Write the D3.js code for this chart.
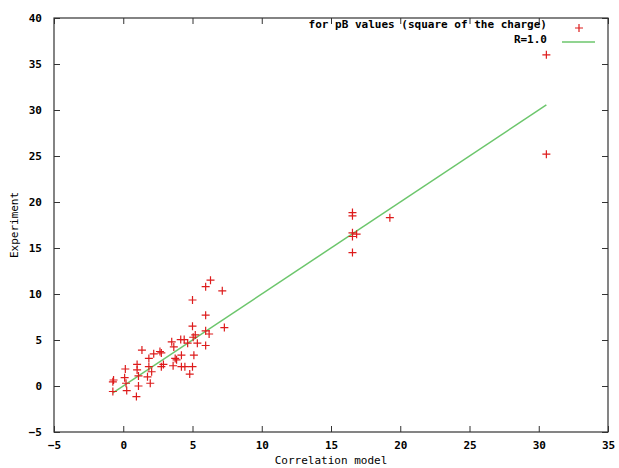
<!DOCTYPE html>
<html>
<head>
<meta charset="utf-8">
<script src="https://cdn.jsdelivr.net/npm/d3@7"></script>
<style>
    body { margin: 0; background: #fff; }
    text { font-family: "DejaVu Sans Mono", monospace; font-size: 11px; fill: #000; }
    .tick-label { font-weight: bold; }
</style>
</head>
<body>
<div id="chart"></div>
<script>
// values
const modelVals = [6.3, 5.95, 7.15, 5.0, 5.95, 7.3, 5.0, 5.95, 6.2, 3.5,
    4.15, 4.4, 4.65, 5.05, 5.2, 5.35, 5.95, 3.65, 1.35, 1.85,
    2.2, 2.65, 2.75, 4.2, 5.1, 3.75, 3.85, 2.9, 2.75, 3.6,
    4.2, 4.45, 5.0, 4.8, 1.0, 0.15, 1.0, 1.85, 2.05, 1.1,
    1.75, 0.1, 1.95, -0.7, -0.75, 0.2, 1.1, -0.75, 0.25, 0.95,
    16.55, 16.55, 19.25, 16.55, 16.85, 16.55, 16.55, 30.55, 30.55];
const expVals = [11.5, 10.8, 10.35, 9.35, 7.7, 6.35, 6.5, 6.0, 5.65, 4.8,
    5.05, 5.05, 4.65, 5.3, 5.55, 4.65, 4.4, 4.25, 3.9, 3.0,
    3.5, 3.75, 3.6, 3.35, 3.35, 3.0, 2.85, 2.35, 2.1, 2.2,
    2.1, 2.1, 2.1, 1.3, 2.35, 1.85, 1.75, 2.1, 1.55, 1.1,
    1.0, 0.9, 0.3, 0.65, 0.45, 0.3, 0.0, -0.6, -0.5, -1.15,
    18.85, 18.5, 18.3, 16.65, 16.5, 16.25, 14.5, 36.0, 25.2];
const xTicks = [-5, 0, 5, 10, 15, 20, 25, 30, 35];
const yTicks = [-5, 0, 5, 10, 15, 20, 25, 30, 35, 40];
const slope = 1.0;   // R=1.0 line

const W = 619, H = 468;
const margin = { top: 18, right: 11, bottom: 36, left: 54 };
const width = W - margin.left - margin.right;
const height = H - margin.top - margin.bottom;

const svg = d3.select("#chart").append("svg")
    .attr("width", W)
    .attr("height", H);

const g = svg.append("g")
    .attr("transform", `translate(${margin.left},${margin.top})`);

const x = d3.scaleLinear().domain([-5, 35]).range([0, width]);
const y = d3.scaleLinear().domain([-5, 40]).range([height, 0]);

// gnuplot style: ticks pointing inward on all four sides
const tickLen = 6;
g.append("g")
    .attr("transform", `translate(0,${height})`)
    .call(d3.axisBottom(x).tickValues(xTicks).tickSizeInner(-tickLen).tickSizeOuter(0).tickPadding(9))
    .call(a => a.select(".domain").remove())
    .selectAll("text").attr("class", "tick-label");
g.append("g")
    .call(d3.axisTop(x).tickValues(xTicks).tickSizeInner(-tickLen).tickSizeOuter(0).tickFormat(""))
    .call(a => a.select(".domain").remove());
g.append("g")
    .call(d3.axisLeft(y).tickValues(yTicks).tickSizeInner(-tickLen).tickSizeOuter(0).tickPadding(12))
    .call(a => a.select(".domain").remove())
    .selectAll("text").attr("class", "tick-label");
g.append("g")
    .attr("transform", `translate(${width},0)`)
    .call(d3.axisRight(y).tickValues(yTicks).tickSizeInner(-tickLen).tickSizeOuter(0).tickFormat(""))
    .call(a => a.select(".domain").remove());

g.selectAll(".tick line").attr("stroke", "#333");
g.selectAll(".tick text").style("font-size", "11px").style("font-family", "DejaVu Sans Mono, monospace");

g.append("rect")
    .attr("width", width)
    .attr("height", height)
    .attr("fill", "none")
    .attr("stroke", "#333")
    .attr("stroke-width", 1.2);

// fit line, across the range of the model values
const xMin = d3.min(modelVals), xMax = d3.max(modelVals);
g.append("line")
    .attr("x1", x(xMin)).attr("y1", y(slope * xMin))
    .attr("x2", x(xMax)).attr("y2", y(slope * xMax))
    .attr("stroke", "#6cc66c")
    .attr("stroke-width", 1.5);

// points as red plus signs
const pts = modelVals.map((d, i) => ({ m: d, e: expVals[i] }));
const s = 4;
g.selectAll(".pt")
    .data(pts)
    .enter()
    .append("path")
    .attr("class", "pt")
    .attr("d", d => `M${x(d.m) - s},${y(d.e)}h${2 * s}M${x(d.m)},${y(d.e) - s}v${2 * s}`)
    .attr("stroke", "#dd1c1c")
    .attr("stroke-width", 1.2);

// legend
const legX = 493;
g.append("text")
    .attr("x", legX).attr("y", 10)
    .attr("text-anchor", "end")
    .style("font-weight", "bold")
    .text("for pB values (square of the charge)");
g.append("path")
    .attr("d", `M${525 - s},10h${2 * s}M525,${10 - s}v${2 * s}`)
    .attr("stroke", "#dd1c1c")
    .attr("stroke-width", 1.2);
g.append("text")
    .attr("x", legX).attr("y", 25)
    .attr("text-anchor", "end")
    .style("font-weight", "bold")
    .text("R=1.0");
g.append("line")
    .attr("x1", 508).attr("x2", 541)
    .attr("y1", 24).attr("y2", 24)
    .attr("stroke", "#6cc66c")
    .attr("stroke-width", 1.5);

// axis titles
svg.append("text")
    .attr("x", margin.left + width / 2)
    .attr("y", 464)
    .attr("text-anchor", "middle")
    .text("Correlation model");
svg.append("text")
    .attr("transform", `translate(18,${margin.top + height / 2}) rotate(-90)`)
    .attr("text-anchor", "middle")
    .text("Experiment");
</script>
</body>
</html>
